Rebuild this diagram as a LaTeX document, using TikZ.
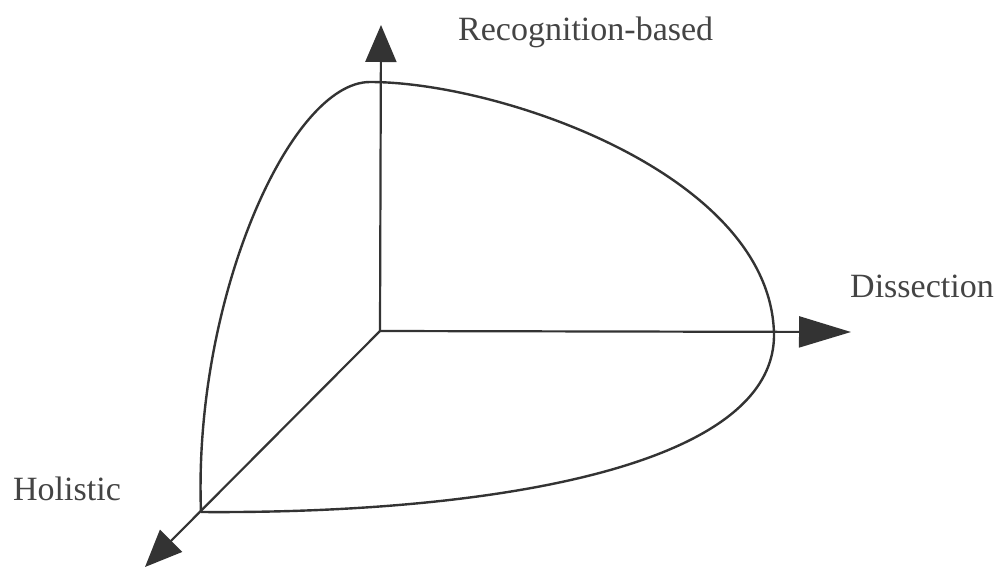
\documentclass[tikz,border=0pt]{standalone}
\usepackage{fontspec}
\setmainfont{Liberation Serif}
\usetikzlibrary{arrows.meta}
\definecolor{ink}{HTML}{333333}
\definecolor{txt}{HTML}{444444}
\tikzset{
  axis/.style={draw=ink, line width=2.2pt, -{Triangle[length=37pt,width=31pt]}},
  longaxis/.style={draw=ink, line width=2.2pt, -{Triangle[length=52pt,width=31pt]}},
  shell/.style={draw=ink, line width=2.4pt, line join=round},
  lbl/.style={anchor=base west, inner sep=0pt, text=txt, font=\fontsize{34}{40}\selectfont}
}
\begin{document}
\begin{tikzpicture}[x=1pt,y=-1pt]
\useasboundingbox (0,0) rectangle (996,568);
\coordinate (O) at (380,331);
\coordinate (up) at (381,25);
\coordinate (right) at (851,332);
\coordinate (down) at (145,567);
\coordinate (C) at (201,512);
\coordinate (T) at (370,82);
\coordinate (R) at (774,335);
\draw[shell] (C) .. controls (193,300) and (290,82) .. (T)
  .. controls (500,82) and (772,175) .. (R)
  .. controls (774,470) and (480,514) .. (C);
\draw[axis] (O) -- (up);
\draw[longaxis] (O) -- (right);
\draw[axis] (O) -- (down);
\node[lbl] (rb) at (458,40) {Recognition-based};
\node[lbl] (ds) at (850,297) {Dissection};
\node[lbl] (ho) at (13,500) {Holistic};
\end{tikzpicture}
\end{document}
